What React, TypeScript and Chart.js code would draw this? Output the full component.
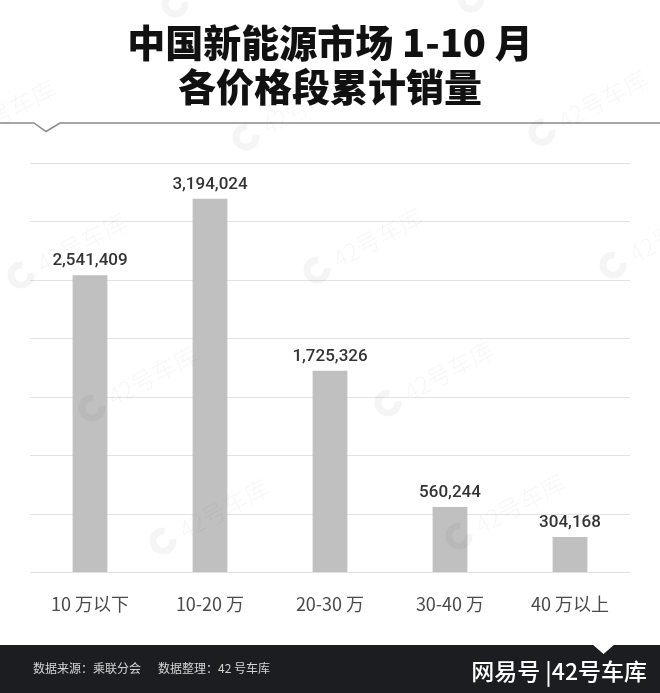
import React, { useEffect, useRef } from "react";
import { Chart, registerables } from "chart.js";

Chart.register(...registerables);

// ---- data ----
const categories = ["10 万以下", "10-20 万", "20-30 万", "30-40 万", "40 万以上"];
const sales = [2541409, 3194024, 1725326, 560244, 304168];
const yMin = 0;
const yMax = 3500000;
const yStep = 500000;
const titleLines = ["中国新能源市场 1-10 月", "各价格段累计销量"];
const footerLeft = ["数据来源：乘联分会", "数据整理：42 号车库"];
const footerRight = "网易号 |42号车库";
const watermarkText = "42号车库";

const W = 660;
const H = 693;
const CJK = '"Noto Sans CJK SC", "Noto Sans", sans-serif';

const pagePlugin = {
  id: "page",
  beforeDraw(chart: any) {
    const ctx = chart.ctx;
    ctx.save();
    ctx.fillStyle = "#ffffff";
    ctx.fillRect(0, 0, W, H);
    // title
    ctx.fillStyle = "#111111";
    ctx.textAlign = "center";
    ctx.textBaseline = "middle";
    ctx.font = `900 38px ${CJK}`;
    ctx.fillText(titleLines[0], 330, 43);
    ctx.fillText(titleLines[1], 330, 87);
    // separator with notch
    ctx.strokeStyle = "#8a8a8a";
    ctx.lineWidth = 1.5;
    ctx.beginPath();
    ctx.moveTo(0, 123);
    ctx.lineTo(34, 123);
    ctx.lineTo(46, 131.5);
    ctx.lineTo(60, 123);
    ctx.lineTo(W, 123);
    ctx.stroke();
    ctx.restore();
  },
  afterDatasetsDraw(chart: any) {
    const ctx = chart.ctx;
    const meta = chart.getDatasetMeta(0);
    ctx.save();
    ctx.fillStyle = "#333333";
    ctx.textAlign = "center";
    ctx.textBaseline = "alphabetic";
    ctx.font = `500 17px Roboto, "Noto Sans", sans-serif`;
    meta.data.forEach((bar: any, i: number) => {
      ctx.fillText(sales[i].toLocaleString("en-US"), bar.x, bar.y - 10);
    });
    ctx.restore();
  },
  afterDraw(chart: any) {
    const ctx = chart.ctx;
    ctx.save();
    // watermarks
    const ang = -28 * Math.PI / 180;
    for (let i = -3; i <= 4; i++) {
      for (let j = -2; j <= 3; j++) {
        const x = 317 + 71 * i + 296 * j;
        const y = 270 + 133 * i - 5 * j;
        if (x < -150 || x > W + 20 || y < -40 || y > 660) continue;
        ctx.save();
        ctx.translate(x, y);
        ctx.rotate(ang);
        ctx.fillStyle = "rgba(0,0,0,0.035)";
        ctx.strokeStyle = "rgba(0,0,0,0.04)";
        ctx.lineWidth = 7;
        ctx.beginPath();
        ctx.arc(0, 0, 10, 0.3, Math.PI * 1.7);
        ctx.stroke();
        ctx.font = `300 24px ${CJK}`;
        ctx.textAlign = "left";
        ctx.textBaseline = "middle";
        ctx.fillText(watermarkText, 20, 0);
        ctx.restore();
      }
    }
    // footer
    ctx.fillStyle = "#1c1d21";
    ctx.fillRect(0, 645, W, H - 645);
    ctx.fillStyle = "#ffffff";
    ctx.beginPath();
    ctx.moveTo(592, 644);
    ctx.lineTo(615, 644);
    ctx.lineTo(603.5, 654);
    ctx.closePath();
    ctx.fill();
    ctx.fillStyle = "#d5d5d5";
    ctx.font = `400 12px ${CJK}`;
    ctx.textAlign = "left";
    ctx.textBaseline = "middle";
    ctx.fillText(footerLeft[0], 33, 668);
    ctx.fillText(footerLeft[1], 158, 668);
    ctx.fillStyle = "#ffffff";
    ctx.font = `500 23px ${CJK}`;
    ctx.textAlign = "right";
    ctx.fillText(footerRight, 647, 671);
    ctx.restore();
  },
};

export default function App() {
  const ref = useRef<HTMLCanvasElement | null>(null);
  useEffect(() => {
    if (!ref.current) return;
    const chart = new Chart(ref.current, {
      type: "bar",
      data: {
        labels: categories,
        datasets: [
          {
            data: sales,
            backgroundColor: "#c0c0c0",
            borderWidth: 0,
            barPercentage: 0.29,
            categoryPercentage: 1,
          },
        ],
      },
      options: {
        responsive: false,
        animation: false,
        events: [],
        layout: { padding: { top: 163, left: 30, right: 30, bottom: 0 } },
        plugins: {
          legend: { display: false },
          title: { display: false },
          tooltip: { enabled: false },
        },
        scales: {
          x: {
            grid: { display: false, drawTicks: false },
            border: { display: false },
            ticks: {
              color: "#4a4a4a",
              padding: 21,
              font: { family: CJK, size: 18, weight: "400" as any },
              maxRotation: 0,
            },
            afterFit: (s: any) => {
              s.height = H - 572.5;
            },
          },
          y: {
            min: yMin,
            max: yMax,
            ticks: { stepSize: yStep, display: false },
            grid: { color: "#e2e2e2", lineWidth: 1, drawTicks: false },
            border: { display: false },
            afterFit: (s: any) => {
              s.width = 0;
            },
          },
        },
      },
      plugins: [pagePlugin],
    });
    return () => chart.destroy();
  }, []);
  return (
    <div style={{ position: "absolute", left: 0, top: 0, width: W, height: H }}>
      <canvas ref={ref} width={W} height={H} style={{ display: "block" }} />
    </div>
  );
}
